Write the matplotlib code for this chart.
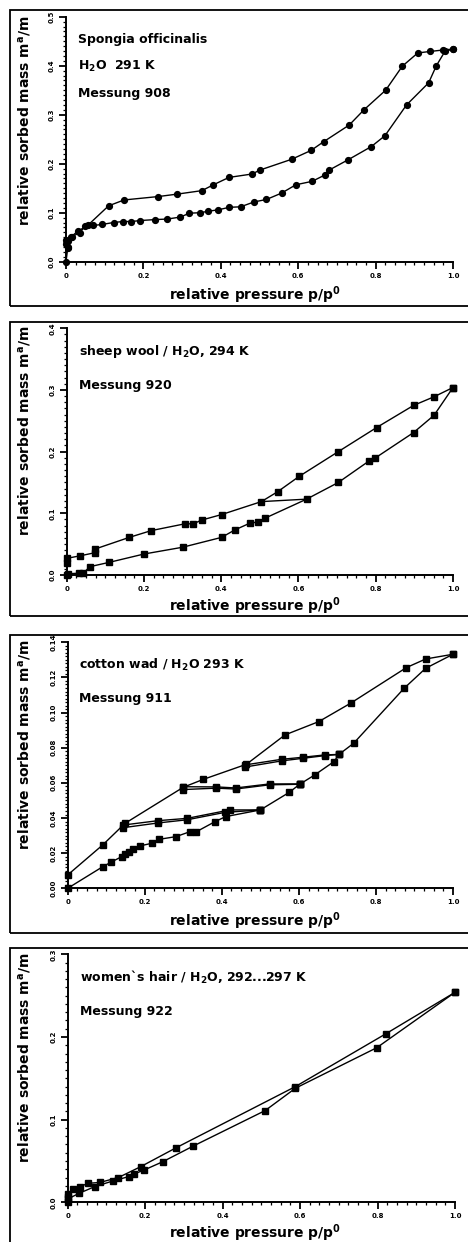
import matplotlib
matplotlib.use("Agg")
import matplotlib.pyplot as plt
from matplotlib.ticker import MultipleLocator, FixedLocator
from matplotlib.patches import Rectangle

plt.rcParams['font.family'] = ['DejaVu Sans']
plt.rcParams['font.weight'] = 'bold'
plt.rcParams['mathtext.fontset'] = 'dejavusans'
plt.rcParams['mathtext.default'] = 'bf'

# ---------------- Panel 1: Spongia officinalis ----------------
p1_ads_x = [0.0, 0.005, 0.0, 0.015, 0.035, 0.05, 0.071, 0.093, 0.123, 0.147, 0.169, 0.192,
            0.231, 0.261, 0.295, 0.319, 0.347, 0.368, 0.394, 0.422, 0.451, 0.486, 0.518,
            0.557, 0.594, 0.636, 0.669, 0.680, 0.729, 0.789, 0.824, 0.880, 0.937, 0.957,
            0.979, 1.0]
p1_ads_y = [0.0, 0.031, 0.044, 0.051, 0.059, 0.073, 0.074, 0.076, 0.080, 0.082, 0.082, 0.084,
            0.086, 0.087, 0.091, 0.099, 0.100, 0.103, 0.106, 0.111, 0.112, 0.122, 0.127,
            0.140, 0.157, 0.164, 0.177, 0.187, 0.208, 0.235, 0.257, 0.320, 0.365, 0.400,
            0.429, 0.434]
p1_des_x = [1.0, 0.974, 0.94, 0.909, 0.869, 0.826, 0.770, 0.732, 0.666, 0.633, 0.583, 0.501,
            0.481, 0.421, 0.381, 0.351, 0.288, 0.239, 0.150, 0.110, 0.056, 0.03, 0.012,
            0.004, 0.0, 0.006]
p1_des_y = [0.434, 0.432, 0.429, 0.426, 0.399, 0.350, 0.310, 0.279, 0.245, 0.227, 0.209, 0.187,
            0.179, 0.172, 0.157, 0.145, 0.138, 0.133, 0.126, 0.114, 0.074, 0.062, 0.050,
            0.042, 0.036, 0.027]

# ---------------- Panel 2: sheep wool ----------------
p2_ads_x = [0.0, 0.004, 0.033, 0.043, 0.06, 0.11, 0.2, 0.3, 0.401, 0.435, 0.474, 0.496,
            0.513, 0.621, 0.703, 0.783, 0.797, 0.898, 0.951, 1.0]
p2_ads_y = [0.0, 0.002, 0.003, 0.003, 0.0135, 0.0205, 0.034, 0.045, 0.061, 0.073, 0.084, 0.086,
            0.092, 0.123, 0.150, 0.185, 0.189, 0.231, 0.259, 0.304]
p2_des_x = [1.0, 0.951, 0.898, 0.802, 0.703, 0.602, 0.546, 0.504, 0.401, 0.349, 0.328, 0.306,
            0.219, 0.162, 0.073, 0.072, 0.034, 0.0, 0.0]
p2_des_y = [0.304, 0.289, 0.275, 0.239, 0.200, 0.160, 0.135, 0.119, 0.098, 0.089, 0.083, 0.083,
            0.072, 0.061, 0.042, 0.036, 0.031, 0.027, 0.019]
p2_scan_x = [0.504, 0.621]
p2_scan_y = [0.119, 0.123]

# ---------------- Panel 3: cotton wad ----------------
p3_ads1_x = [0.0, 0.091, 0.112, 0.14, 0.149, 0.16, 0.17, 0.187, 0.218, 0.238, 0.281, 0.317,
             0.334, 0.382, 0.41, 0.50]
p3_ads1_y = [0.0, 0.0123, 0.0148, 0.018, 0.0193, 0.0209, 0.0222, 0.0241, 0.0256, 0.0279, 0.0294,
             0.0322, 0.0322, 0.0379, 0.0408, 0.0446]
p3_scan1_des_x = [0.50, 0.421, 0.31, 0.235, 0.144]
p3_scan1_des_y = [0.0446, 0.0446, 0.0398, 0.0385, 0.0360]
p3_scan1_ads_x = [0.144, 0.235, 0.31, 0.408, 0.50]
p3_scan1_ads_y = [0.0345, 0.0372, 0.0390, 0.0432, 0.0446]
p3_ads2_x = [0.50, 0.575, 0.602]
p3_ads2_y = [0.0446, 0.0546, 0.0592]
p3_scan2_des_x = [0.602, 0.524, 0.436, 0.386, 0.30]
p3_scan2_des_y = [0.0594, 0.0594, 0.0571, 0.0577, 0.0578]
p3_scan2_ads_x = [0.30, 0.386, 0.436, 0.524, 0.602]
p3_scan2_ads_y = [0.0562, 0.0570, 0.0565, 0.0589, 0.0592]
p3_ads3_x = [0.602, 0.641, 0.691, 0.704, 0.742, 0.873, 0.929, 1.0]
p3_ads3_y = [0.0592, 0.0645, 0.0721, 0.0762, 0.0825, 0.1138, 0.1252, 0.1332]
p3_scan3_des_x = [0.704, 0.667, 0.611, 0.555, 0.46]
p3_scan3_des_y = [0.0762, 0.0759, 0.0746, 0.0734, 0.0702]
p3_scan3_ads_x = [0.46, 0.555, 0.611, 0.667, 0.704]
p3_scan3_ads_y = [0.0690, 0.0725, 0.0740, 0.0755, 0.0762]
p3_des_x = [1.0, 0.929, 0.879, 0.734, 0.652, 0.564, 0.464, 0.352, 0.30, 0.149, 0.091, 0.0]
p3_des_y = [0.1332, 0.1305, 0.1256, 0.1053, 0.0949, 0.0873, 0.0706, 0.0620, 0.0575, 0.0370,
            0.0247, 0.0076]

# ---------------- Panel 4: women's hair ----------------
p4_ads_x = [0.0, 0.0, 0.03, 0.07, 0.118, 0.157, 0.17, 0.197, 0.245, 0.324, 0.51, 0.588,
            0.798, 1.0]
p4_ads_y = [0.0, 0.004, 0.011, 0.019, 0.026, 0.031, 0.034, 0.039, 0.049, 0.068, 0.111, 0.138,
            0.187, 0.254]
p4_des_x = [1.0, 0.822, 0.588, 0.28, 0.188, 0.131, 0.083, 0.053, 0.032, 0.013, 0.002, 0.0]
p4_des_y = [0.254, 0.204, 0.140, 0.066, 0.043, 0.030, 0.024, 0.023, 0.019, 0.016, 0.010, 0.006]

W, H = 468, 1242
fig = plt.figure(figsize=(W / 100, H / 100), dpi=100)

def fx(px):
    return px / W

def fy(py):
    return 1 - py / H

frames = [(10, 306), (322, 616), (635, 933), (948, 1260)]
for top, bot in frames:
    fig.patches.append(Rectangle((fx(10), fy(bot)), fx(480) - fx(10), fy(top) - fy(bot),
                                 transform=fig.transFigure, fill=False, edgecolor='black',
                                 linewidth=1.3))

axes_px = [(66, 453, 16.7, 261.7), (66.7, 453, 328.3, 575), (67.7, 453, 642.3, 888.3),
           (67.7, 455, 954.3, 1202.3)]

def make_ax(i, ytop, ymajor, yminor, yfmt):
    l, r, t, b = axes_px[i]
    ax = fig.add_axes([fx(l), fy(b), fx(r) - fx(l), fy(t) - fy(b)])
    ax.set_xlim(0, 1.0)
    ax.set_ylim(0, ytop)
    for s in ['top', 'right']:
        ax.spines[s].set_visible(False)
    for s in ['left', 'bottom']:
        ax.spines[s].set_linewidth(1.4)
    ax.xaxis.set_major_locator(MultipleLocator(0.2))
    ax.xaxis.set_minor_locator(MultipleLocator(0.025))
    ax.yaxis.set_major_locator(MultipleLocator(ymajor))
    ax.yaxis.set_minor_locator(MultipleLocator(yminor))
    ax.tick_params(which='major', direction='out', length=5, width=1.3, labelsize=5)
    ax.tick_params(which='minor', direction='out', length=2, width=0.9)
    ax.set_xticks([0, 0.2, 0.4, 0.6, 0.8, 1.0])
    ax.set_xticklabels(['0', '0.2', '0.4', '0.6', '0.8', '1.0'], fontweight='bold')
    yt = ax.get_yticks()
    yt = [v for v in yt if -1e-9 <= v <= ytop + 1e-9]
    ax.set_yticks(yt)
    ax.set_yticklabels([yfmt.format(v) for v in yt], rotation=90, va='center',
                       fontweight='bold')
    ax.tick_params(axis='x', pad=3)
    ax.tick_params(axis='y', pad=3)
    return ax

def curve(ax, x, y, marker='s', ms=4.2):
    ax.plot(x, y, color='black', linewidth=1.0, marker=marker, markersize=ms,
            markerfacecolor='black', markeredgecolor='black', clip_on=False)

txt_kw = dict(fontsize=9, fontweight='bold', va='center', ha='left', color='black')
lab_kw = dict(fontsize=10, fontweight='bold', color='black')

# Panel 1
ax1 = make_ax(0, 0.5, 0.1, 0.01, '{:.1f}')
curve(ax1, p1_ads_x, p1_ads_y, marker='o', ms=4.2)
curve(ax1, p1_des_x, p1_des_y, marker='o', ms=4.2)
fig.text(fx(78), fy(39), 'Spongia officinalis', **txt_kw)
fig.text(fx(78), fy(66), r'H$_2$O  291 K', **txt_kw)
fig.text(fx(78), fy(93), 'Messung 908', **txt_kw)

# Panel 2
ax2 = make_ax(1, 0.4, 0.1, 0.01, '{:.1f}')
curve(ax2, p2_ads_x, p2_ads_y)
curve(ax2, p2_des_x, p2_des_y)
ax2.plot(p2_scan_x, p2_scan_y, color='black', linewidth=1.0)
fig.text(fx(79), fy(352), r'sheep wool / H$_2$O, 294 K', **txt_kw)
fig.text(fx(79), fy(385), 'Messung 920', **txt_kw)

# Panel 3
ax3 = make_ax(2, 0.14, 0.02, 0.002, '{:.2f}')
for xs, ys in [(p3_ads1_x, p3_ads1_y), (p3_scan1_des_x, p3_scan1_des_y),
               (p3_scan1_ads_x, p3_scan1_ads_y), (p3_ads2_x, p3_ads2_y),
               (p3_scan2_des_x, p3_scan2_des_y), (p3_scan2_ads_x, p3_scan2_ads_y),
               (p3_ads3_x, p3_ads3_y), (p3_scan3_des_x, p3_scan3_des_y),
               (p3_scan3_ads_x, p3_scan3_ads_y), (p3_des_x, p3_des_y)]:
    curve(ax3, xs, ys, ms=4.0)
fig.text(fx(79), fy(665), r'cotton wad / H$_2$O 293 K', **txt_kw)
fig.text(fx(79), fy(699), 'Messung 911', **txt_kw)

# Panel 4
ax4 = make_ax(3, 0.3, 0.1, 0.01, '{:.1f}')
curve(ax4, p4_ads_x, p4_ads_y, ms=4.0)
curve(ax4, p4_des_x, p4_des_y, ms=4.0)
fig.text(fx(80), fy(977), r'women`s hair / H$_2$O, 292...297 K', **txt_kw)
fig.text(fx(80), fy(1011), 'Messung 922', **txt_kw)

# axis labels
xlab_y = [295, 606, 921, 1233]
ylab_c = [121, 431, 745, 1058]
for yy in xlab_y:
    fig.text(fx(255), fy(yy), r'relative pressure p/p$^0$', ha='center', va='center', **lab_kw)
for yy in ylab_c:
    fig.text(fx(25), fy(yy), r'relative sorbed mass m$^a$/m', ha='center', va='center',
             rotation=90, **lab_kw)

fig.savefig('out.png', dpi=100)
